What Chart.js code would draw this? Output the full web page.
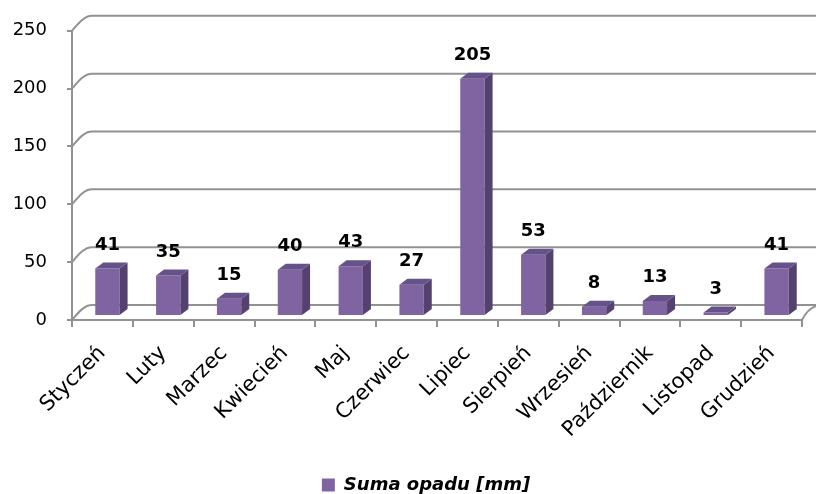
<!DOCTYPE html>
<html lang="pl">
<head>
  <meta charset="UTF-8" />
  <title>Suma opadu</title>
  <script src="https://cdn.jsdelivr.net/npm/chart.js"></script>
  <style>
    html, body { margin: 0; padding: 0; background: #fff; }
    #wrap { width: 816px; height: 494px; }
  </style>
</head>
<body>
  <div id="wrap"><canvas id="rainChart" width="816" height="494"></canvas></div>

  <script>
    const months = ["Styczeń", "Luty", "Marzec", "Kwiecień", "Maj", "Czerwiec",
                    "Lipiec", "Sierpień", "Wrzesień", "Październik", "Listopad", "Grudzień"];
    const rainfall = [41, 35, 15, 40, 43, 27, 205, 53, 8, 13, 3, 41];
    const seriesName = "Suma opadu [mm]";
    const yMax = 250;
    const yStep = 50;

    const FONT = "'DejaVu Sans', sans-serif";
    const frontColor = "#8064a2", sideColor = "#54416f", topColor = "#66528a";
    const wallColor = "#929292";
    // fake 3D: wall depth and bar depth
    const wallDx = 20, wallDy = 15;
    const barShiftX = 5, barShiftY = -4;
    const barDx = 8, barDy = 6;

    const fake3d = {
      id: "fake3d",
      afterLayout(chart) {
        // nudge legend a little left, like the original
        if (chart.legend) {
          chart.legend.left -= 11;
          chart.legend.right -= 11;
        }
      },
      beforeDatasetsDraw(chart) {
        const { ctx, chartArea: a, scales: { y } } = chart;
        ctx.save();
        ctx.strokeStyle = wallColor;
        ctx.lineWidth = 2;
        y.ticks.forEach(t => {
          const py = y.getPixelForValue(t.value);
          ctx.beginPath();
          ctx.moveTo(a.left, py);
          ctx.bezierCurveTo(a.left + 6, py - 7, a.left + 12, py - wallDy, a.left + wallDx, py - wallDy);
          ctx.lineTo(chart.width, py - wallDy);
          ctx.stroke();
        });
        ctx.beginPath();
        ctx.moveTo(a.right, a.bottom);
        ctx.bezierCurveTo(a.right + 4, a.bottom - 8, a.right + 10, a.bottom - wallDy, a.right + wallDx, a.bottom - wallDy);
        ctx.stroke();
        ctx.restore();

        ctx.save();
        ctx.translate(barShiftX, barShiftY);
      },
      afterDatasetsDraw(chart) {
        const { ctx } = chart;
        const meta = chart.getDatasetMeta(0);
        meta.data.forEach(bar => {
          const l = bar.x - bar.width / 2, r = bar.x + bar.width / 2;
          const t = bar.y, b = bar.base;
          // side face
          ctx.fillStyle = sideColor;
          ctx.beginPath();
          ctx.moveTo(r, b);
          ctx.lineTo(r, t);
          ctx.lineTo(r + barDx, t - barDy);
          ctx.lineTo(r + barDx, b - barDy);
          ctx.closePath();
          ctx.fill();
          // top face
          ctx.fillStyle = topColor;
          ctx.beginPath();
          ctx.moveTo(l, t);
          ctx.lineTo(l + barDx, t - barDy);
          ctx.lineTo(r + barDx, t - barDy);
          ctx.lineTo(r, t);
          ctx.closePath();
          ctx.fill();
        });
        ctx.restore();

        // value labels
        ctx.save();
        ctx.font = "bold 18px " + FONT;
        ctx.fillStyle = "#000";
        ctx.textAlign = "center";
        ctx.textBaseline = "alphabetic";
        meta.data.forEach((bar, i) => {
          ctx.fillText(String(rainfall[i]), bar.x + barShiftX, bar.y + barShiftY - 19);
        });
        ctx.restore();
      }
    };

    new Chart(document.getElementById("rainChart"), {
      type: "bar",
      data: {
        labels: months,
        datasets: [{
          label: seriesName,
          data: rainfall,
          backgroundColor: frontColor,
          borderWidth: 0,
          categoryPercentage: 1,
          barPercentage: 0.4
        }]
      },
      options: {
        responsive: false,
        animation: false,
        layout: { padding: { top: 29, right: 14, left: 0, bottom: -10 } },
        plugins: {
          legend: {
            position: "bottom",
            fullSize: false,
            labels: {
              boxWidth: 13,
              boxHeight: 13,
              padding: 6,
              color: "#000",
              font: { family: FONT, size: 18, weight: "bold", style: "italic" }
            }
          },
          tooltip: { enabled: false }
        },
        scales: {
          x: {
            grid: { drawOnChartArea: false, drawTicks: true, tickLength: 7, color: wallColor, lineWidth: 2 },
            border: { color: wallColor, width: 2 },
            ticks: {
              minRotation: 45,
              maxRotation: 45,
              color: "#000",
              padding: 14,
              font: { family: FONT, size: 21 }
            },
            afterFit(s) { s.height = 150; }
          },
          y: {
            min: 0,
            max: yMax,
            grid: { drawOnChartArea: false, drawTicks: true, tickLength: 5, color: wallColor, lineWidth: 2 },
            border: { color: wallColor, width: 2 },
            ticks: {
              stepSize: yStep,
              color: "#000",
              padding: 20,
              font: { family: FONT, size: 18 }
            },
            afterFit(s) { s.width = 72; }
          }
        }
      },
      plugins: [fake3d]
    });
  </script>
</body>
</html>
